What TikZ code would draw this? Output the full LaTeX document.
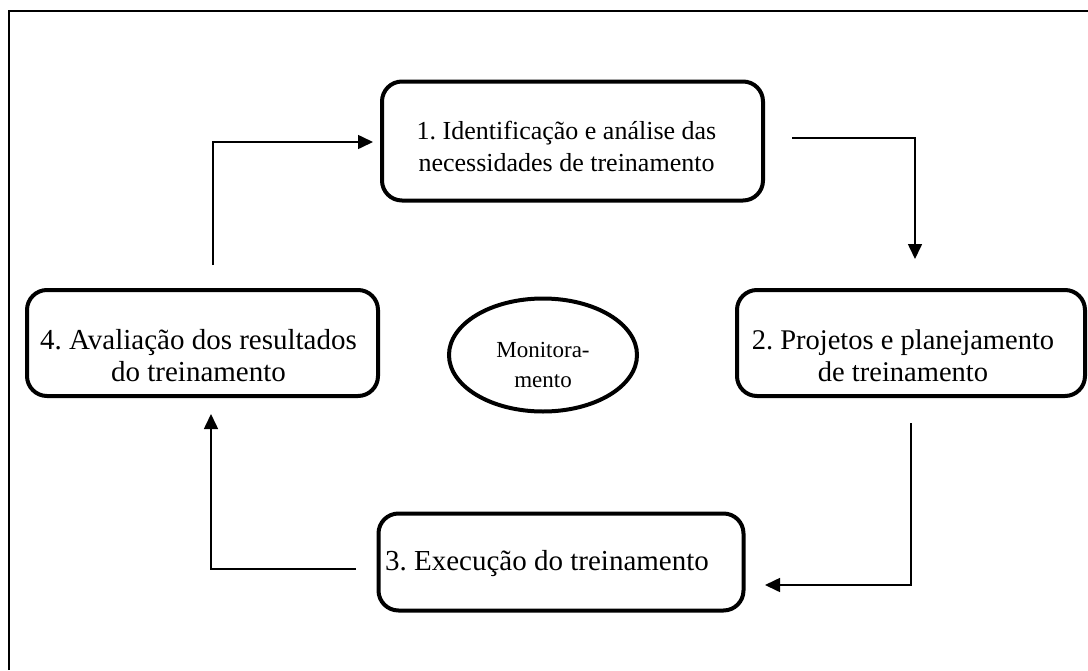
\documentclass[tikz,border=0pt]{standalone}
\usepackage{fontspec}
\setmainfont{Liberation Serif}
\usetikzlibrary{shapes.geometric,arrows.meta,calc}
\begin{document}
\frenchspacing
\begin{tikzpicture}[x=1pt,y=-1pt,
  stage/.style={draw,line width=4pt,rounded corners=20pt,inner sep=0pt},
  stagetext/.style={align=center,inner sep=0pt,font=\fontsize{29}{32}\selectfont},
  monitor/.style={draw,ellipse,line width=4pt,inner sep=0pt},
  monitortext/.style={align=center,inner sep=0pt,font=\fontsize{23}{30}\selectfont},
  flow/.style={line width=1.6pt,-{Triangle[length=15pt,width=14pt]}},
  frameline/.style={line width=1.4pt}]
\useasboundingbox (0,0) rectangle (1088,670);
\draw[frameline] (9,670) -- (9,11) -- (1088,11);
\node[stage,minimum width=381pt,minimum height=119pt] (n1) at (572.5,141) {};
\node[stage,minimum width=348pt,minimum height=106pt] (n2) at (911,343) {};
\node[stage,minimum width=365pt,minimum height=97pt] (n3) at (561,562) {};
\node[stage,minimum width=351pt,minimum height=106pt] (n4) at (202.5,343) {};
\node[monitor,minimum width=188pt,minimum height=113pt] (m) at (543,355) {};
\node[stagetext,font=\fontsize{26}{32}\selectfont] (t1) at ($(n1.center)+(-6,5)$) {1. Identificação e análise das\\necessidades de treinamento};
\node[stagetext,font=\fontsize{28.5}{32}\selectfont] (t2) at ($(n2.center)+(-8,13)$) {2. Projetos e planejamento\\de treinamento};
\node[stagetext] (t3) at ($(n3.center)+(-14,2)$) {3. Execução do treinamento};
\node[stagetext] (t4) at ($(n4.center)+(-4,13)$) {4. Avaliação dos resultados\\do treinamento};
\node[monitortext] (tm) at ($(m.center)+(0,10)$) {Monitora-\\mento};
\coordinate (a1s) at (213,265);
\coordinate (a1e) at (373,142);
\coordinate (a2s) at (792,138);
\coordinate (a2e) at (915,259);
\coordinate (a3s) at (911,423);
\coordinate (a3e) at (765,585);
\coordinate (a4s) at (356,569);
\coordinate (a4e) at (211,414);
\draw[flow] (a1s) |- (a1e);
\draw[flow] (a2s) -| (a2e);
\draw[flow] (a3s) |- (a3e);
\draw[flow] (a4s) -| (a4e);
\end{tikzpicture}
\end{document}
